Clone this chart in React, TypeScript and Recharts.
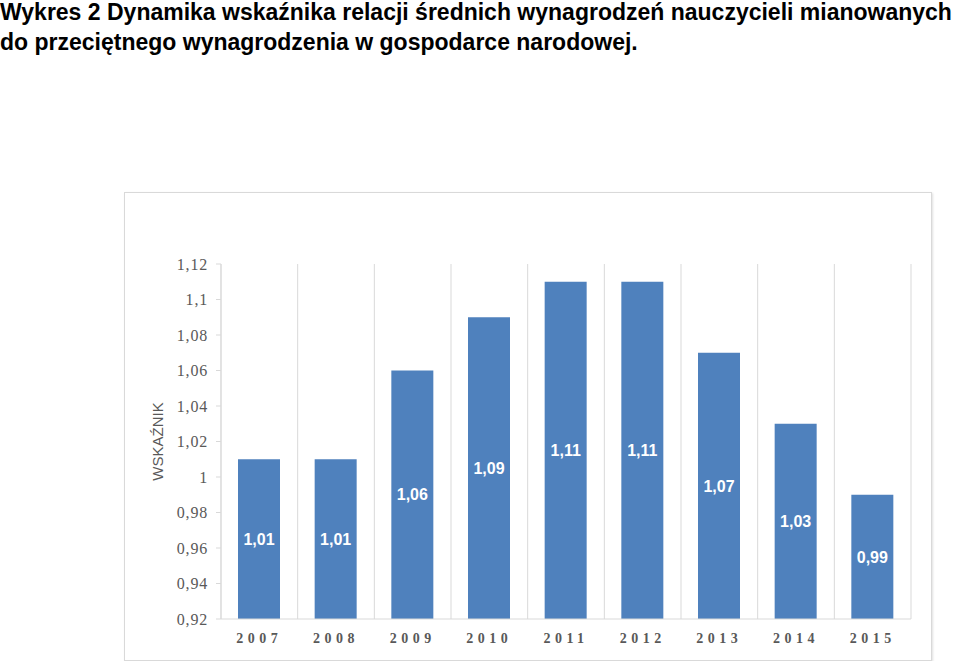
import React from 'react';
import { BarChart, Bar, XAxis, YAxis, CartesianGrid, LabelList } from 'recharts';

const years = ['2007', '2008', '2009', '2010', '2011', '2012', '2013', '2014', '2015'];
const ratios = [1.01, 1.01, 1.06, 1.09, 1.11, 1.11, 1.07, 1.03, 0.99];
const yTicks = [0.92, 0.94, 0.96, 0.98, 1, 1.02, 1.04, 1.06, 1.08, 1.1, 1.12];

const chartData = years.map((year, i) => ({ year, value: ratios[i] }));

const plFormat = (v: number) => String(+v.toFixed(2)).replace('.', ',');

const gridColor = '#d9d9d9';

export default function App() {
  return (
    <div style={{ position: 'absolute', left: 0, top: 0, width: 960, height: 661, background: '#fff', overflow: 'hidden' }}>
      <div
        style={{
          position: 'absolute',
          left: 0,
          top: -3,
          fontFamily: '"Liberation Sans", Arial, sans-serif',
          fontWeight: 'bold',
          fontSize: 23,
          lineHeight: '30px',
          color: '#000',
          whiteSpace: 'nowrap',
        }}
      >
        Wykres 2 Dynamika wskaźnika relacji średnich wynagrodzeń nauczycieli mianowanych
        <br />
        do przeciętnego wynagrodzenia w gospodarce narodowej.
      </div>
      <div
        style={{
          position: 'absolute',
          left: 124,
          top: 192,
          width: 806,
          height: 467,
          border: '1px solid #d9d9d9',
          boxShadow: '1px 1px 2px rgba(0,0,0,0.12)',
          background: '#fff',
        }}
      >
        <BarChart width={806} height={467} data={chartData} margin={{ top: 71, right: 20, left: 0, bottom: 10 }}>
          <CartesianGrid
            horizontal={false}
            stroke={gridColor}
            verticalCoordinatesGenerator={({ offset }: any) =>
              Array.from({ length: years.length + 1 }, (_, i) => offset.left + (i * offset.width) / years.length)
            }
          />
          <XAxis
            dataKey="year"
            height={31}
            axisLine={{ stroke: gridColor }}
            tickLine={false}
            tick={{ fill: '#595959', fontSize: 14, fontFamily: '"Liberation Serif", serif', fontWeight: 'bold', letterSpacing: 4.5 }}
            tickMargin={8}
          />
          <YAxis
            width={96}
            domain={[0.92, 1.12]}
            ticks={yTicks}
            interval={0}
            tickFormatter={plFormat}
            axisLine={{ stroke: gridColor }}
            tickLine={{ stroke: gridColor }}
            tickSize={5}
            tickMargin={8}
            tick={{ fill: '#595959', fontSize: 16, fontFamily: '"Liberation Serif", serif', letterSpacing: 0.8 }}
            label={{
              value: 'WSKAŹNIK',
              angle: -90,
              position: 'insideLeft',
              offset: 33,
              textAnchor: 'middle',
              fill: '#595959',
              fontSize: 15,
              fontFamily: '"Liberation Sans", sans-serif',
            }}
          />
          <Bar dataKey="value" fill="#4f81bd" barSize={42} isAnimationActive={false}>
            <LabelList
              dataKey="value"
              position="center"
              formatter={(v: any) => plFormat(Number(v))}
              fill="#ffffff"
              fontSize={16}
              fontWeight="bold"
              fontFamily='"Liberation Sans", sans-serif'
            />
          </Bar>
        </BarChart>
      </div>
    </div>
  );
}
